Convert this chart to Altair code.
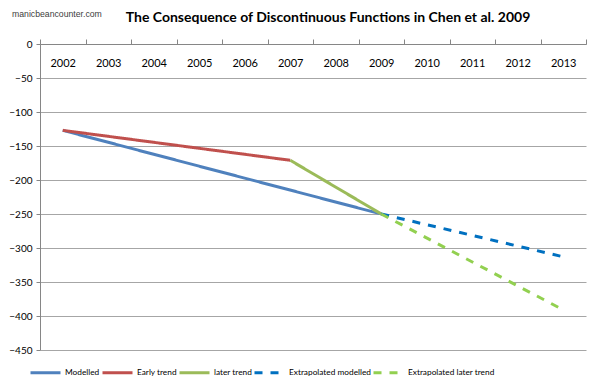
import altair as alt
import pandas as pd

years = [str(y) for y in range(2002, 2014)]

series_names = ["Modelled", "Early trend", "later trend",
                "Extrapolated modelled", "Extrapolated later trend"]
modelled_years = ["2002", "2009"]
modelled_vals = [-127, -250]
early_years = ["2002", "2007"]
early_vals = [-127, -171]
later_years = ["2007", "2009"]
later_vals = [-171, -250]
ext_mod_years = ["2009", "2013"]
ext_mod_vals = [-250, -313]
ext_later_years = ["2009", "2013"]
ext_later_vals = [-250, -391]

title_text = "The Consequence of Discontinuous Functions in Chen et al. 2009"
watermark_text = "manicbeancounter.com"

colors = ["#4F81BD", "#C0504D", "#9BBB59", "#0070C0", "#92D050"]
dashes = [[1, 0], [1, 0], [1, 0], [8, 8], [8, 8]]

rows = []
for name, ys, vs in zip(series_names,
                        [modelled_years, early_years, later_years, ext_mod_years, ext_later_years],
                        [modelled_vals, early_vals, later_vals, ext_mod_vals, ext_later_vals]):
    for y, v in zip(ys, vs):
        rows.append({"series": name, "year": y, "value": v})
df = pd.DataFrame(rows)

font = "Lato"

legend_kw = dict(title=None, orient="none", legendX=-11, legendY=312, direction="horizontal",
                 symbolType="stroke", symbolStrokeWidth=3, symbolSize=900,
                 labelFont=font, labelFontSize=8.3, labelColor="#000000", columnPadding=-4,
                 labelOffset=3)

lines = alt.Chart(df).mark_line(strokeWidth=3).encode(
    x=alt.X("year:O", scale=alt.Scale(type="band", domain=years, paddingInner=0, paddingOuter=0),
            axis=alt.Axis(orient="top", title=None, labelAngle=0, tickBand="extent",
                          labelBaseline="top", labelPadding=-18, tickSize=5,
                          domainColor="#868686", tickColor="#868686", grid=False,
                          labelFont=font, labelFontSize=11, labelColor="#000000",
                          labelOverlap=False)),
    y=alt.Y("value:Q", scale=alt.Scale(domain=[-450, 0], nice=False),
            axis=alt.Axis(title=None, values=list(range(-450, 1, 50)), grid=True,
                          gridColor="#A6A6A6", domainColor="#868686", tickColor="#868686",
                          tickSize=4, labelFont=font, labelFontSize=10, labelColor="#000000",
                          labelPadding=4)),
    color=alt.Color("series:N", scale=alt.Scale(domain=series_names, range=colors),
                    legend=alt.Legend(**legend_kw)),
    strokeDash=alt.StrokeDash("series:N", scale=alt.Scale(domain=series_names, range=dashes),
                              legend=alt.Legend(**legend_kw)),
    detail="series:N",
)

watermark = alt.Chart(pd.DataFrame({"t": [watermark_text]})).mark_text(
    align="left", baseline="middle", font="Liberation Sans", fontSize=8.7, color="#404040"
).encode(x=alt.value(-28), y=alt.value(-30), text="t:N")

title = alt.Chart(pd.DataFrame({"t": [title_text]})).mark_text(
    align="center", baseline="middle", font=font, fontSize=14, fontWeight="bold", color="#000000"
).encode(x=alt.value(288), y=alt.value(-26), text="t:N")

chart = alt.layer(lines, watermark, title).properties(
    width=546, height=306,
    autosize=alt.AutoSizeParams(type="none"),
    padding={"left": 32, "top": 36, "right": 6, "bottom": 32},
).configure_view(stroke=None)

chart.save("out.html", embed_options={"renderer": "svg", "actions": False})
